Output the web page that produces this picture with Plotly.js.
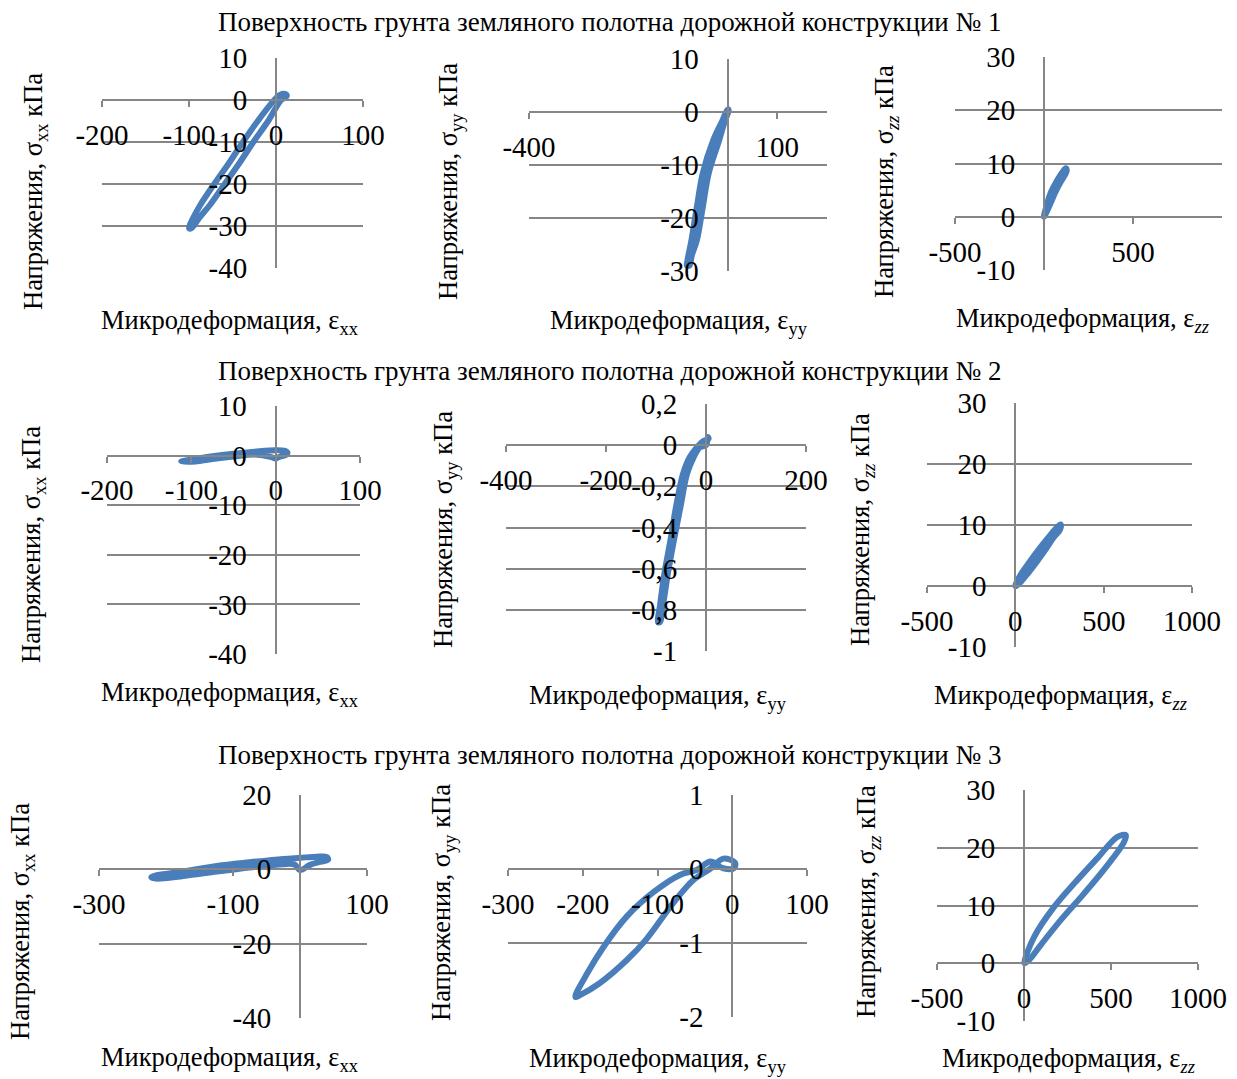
<!DOCTYPE html>
<html>
<head>
<meta charset="utf-8">
<script src="https://cdn.plot.ly/plotly-3.0.1.min.js"></script>
<style>html,body{margin:0;padding:0;background:#fff}#chart{width:1237px;height:1079px}</style>
</head>
<body>
<div id="chart"></div>
<script>
// ---------- Data ----------
const rowTitles = [
  'Поверхность грунта земляного полотна дорожной конструкции № 1',
  'Поверхность грунта земляного полотна дорожной конструкции № 2',
  'Поверхность грунта земляного полотна дорожной конструкции № 3'
];

// Row 1
const r1_xx_strain = [8, 3, -2, -21, -38, -54, -71, -87, -95, -100, -97, -88, -76, -59, -42, -26, -9, 6, 12, 12, 8];
const r1_xx_stress = [1.5, 1, 0, -5, -10, -15, -20, -25, -28, -30.5, -30.5, -28, -25, -20, -15, -10, -5, 0, 0.8, 1.3, 1.5];
const r1_yy_strain = [0, -10, -29, -50, -62, -73, -81, -82, -77, -72, -62, -50, -38, -17, -5, 2, 0];
const r1_yy_stress = [0.5, -1.5, -5.3, -11.5, -17.9, -24.2, -28, -29, -29, -27, -24.2, -17.9, -11.5, -5.3, -1.5, 0.3, 0.5];
const r1_zz_strain = [0, 15, 40, 70, 100, 122, 128, 120, 95, 65, 38, 15, 0];
const r1_zz_stress = [0, 2.2, 4.7, 6.6, 8.2, 9.1, 8.7, 8, 6.6, 4.7, 2.6, 0.9, 0];

// Row 2
const r2_xx_strain = [-112, -95, -75, -50, -25, 0, 10, 14, 12, 5, 0, -5, -25, -50, -75, -95, -112];
const r2_xx_stress = [-1.2, -0.6, -0.1, 0.4, 0.8, 1.1, 1.0, 0.6, 0.1, -0.2, -0.6, -0.3, 0.2, -0.2, -0.7, -1.2, -1.2];
const r2_yy_strain = [5, -5, -18, -33, -46, -60, -71, -83, -92, -96, -92, -86, -76, -64, -51, -38, -25, -12, 0, 4, 5];
const r2_yy_stress = [0.03, 0.02, -0.01, -0.06, -0.14, -0.30, -0.46, -0.62, -0.78, -0.86, -0.86, -0.78, -0.62, -0.46, -0.30, -0.14, -0.06, -0.01, 0.0, 0.04, 0.03];
const r2_zz_strain = [0, 10, 33, 82, 133, 188, 235, 255, 258, 248, 218, 172, 122, 69, 25, 5, 0];
const r2_zz_stress = [0, 0.8, 2, 4, 6, 8, 9.6, 10.1, 9.7, 9, 8, 6, 4, 2, 0.5, 0, 0];

// Row 3
const r3_xx_strain = [0, 15, 30, 42, 40, 25, 0, -25, -75, -124, -174, -215, -222, -215, -174, -124, -75, -25, -8, 0];
const r3_xx_stress = [-0.2, 1.2, 2.0, 2.6, 3.3, 3.4, 3.1, 2.8, 1.9, 0.9, -0.6, -1.6, -2.1, -2.5, -1.8, -0.6, 0.5, 1.4, 1.3, -0.2];
const r3_yy_strain = [2, -12, -29, -47, -70, -105, -141, -172, -194, -210, -203, -177, -141, -115, -79, -52, -30, -12, 4, 2];
const r3_yy_stress = [0.01, 0.01, 0.1, -0.01, -0.08, -0.31, -0.64, -1.05, -1.41, -1.73, -1.70, -1.54, -1.23, -0.95, -0.46, -0.15, 0.0, 0.14, 0.08, 0.01];
const r3_zz_strain = [2, 59, 174, 288, 422, 537, 585, 575, 480, 346, 212, 97, 30, 2];
const r3_zz_stress = [0, 4.6, 9.8, 13.8, 18.2, 21.9, 22.2, 21, 17, 12.1, 7.5, 3.2, 0.6, 0];

// Tick values / labels
const xTicks_A = [-200, -100, 0, 100];          const xText_A = ['-200', '-100', '0', '100'];
const xTicks_B = [-400, 100];                   const xText_B = ['-400', '100'];
const xTicks_C = [-500, 500];                   const xText_C = ['-500', '500'];
const xTicks_D = [-400, -200, 0, 200];          const xText_D = ['-400', '-200', '0', '200'];
const xTicks_E = [-500, 0, 500, 1000];          const xText_E = ['-500', '0', '500', '1000'];
const xTicks_F = [-300, -100, 100];             const xText_F = ['-300', '-100', '100'];
const xTicks_G = [-300, -200, -100, 0, 100];    const xText_G = ['-300', '-200', '-100', '0', '100'];
const yTicks_A = [-40, -30, -20, -10, 0, 10];   const yText_A = ['-40', '-30', '-20', '-10', '0', '10'];
const yTicks_B = [-30, -20, -10, 0, 10];        const yText_B = ['-30', '-20', '-10', '0', '10'];
const yTicks_C = [-10, 0, 10, 20, 30];          const yText_C = ['-10', '0', '10', '20', '30'];
const yTicks_D = [-1, -0.8, -0.6, -0.4, -0.2, 0, 0.2]; const yText_D = ['-1', '-0,8', '-0,6', '-0,4', '-0,2', '0', '0,2'];
const yTicks_E = [-40, -20, 0, 20];             const yText_E = ['-40', '-20', '0', '20'];
const yTicks_F = [-2, -1, 0, 1];                const yText_F = ['-2', '-1', '0', '1'];

const yTitles = ['Напряжения, σ<sub>xx</sub> кПа', 'Напряжения, σ<sub>yy</sub> кПа', 'Напряжения, σ<sub><i>zz</i></sub> кПа'];
const xTitles = ['Микродеформация, ε<sub>xx</sub>', 'Микродеформация, ε<sub>yy</sub>', 'Микродеформация, ε<sub><i>zz</i></sub>'];

// ---------- Layout of panels (pixel boxes) ----------
const W = 1237, H = 1079;
const panels = [
  {sx: r1_xx_strain, sy: r1_xx_stress, box: [102, 363, 58, 268],  xr: [-200, 100], yr: [-40, 10],  xt: [xTicks_A, xText_A], yt: [yTicks_A, yText_A], yt_i: 0, yTitle: [35, 192],  xTitle: [230, 322]},
  {sx: r1_yy_strain, sy: r1_yy_stress, box: [529, 827, 59, 271],  xr: [-400, 200], yr: [-30, 10],  xt: [xTicks_B, xText_B], yt: [yTicks_B, yText_B], yt_i: 1, yTitle: [450, 182], xTitle: [679, 322]},
  {sx: r1_zz_strain, sy: r1_zz_stress, box: [955, 1222, 57, 270], xr: [-500, 1000], yr: [-10, 30], xt: [xTicks_C, xText_C], yt: [yTicks_C, yText_C], yt_i: 2, yTitle: [886, 182], xTitle: [1082, 320]},
  {sx: r2_xx_strain, sy: r2_xx_stress, box: [107, 360, 406, 654], xr: [-200, 100], yr: [-40, 10],  xt: [xTicks_A, xText_A], yt: [yTicks_A, yText_A], yt_i: 0, yTitle: [33, 545],  xTitle: [230, 694]},
  {sx: r2_yy_strain, sy: r2_yy_stress, box: [506, 806, 404, 651], xr: [-400, 200], yr: [-1, 0.2],  xt: [xTicks_D, xText_D], yt: [yTicks_D, yText_D], yt_i: 1, yTitle: [445, 530], xTitle: [658, 697]},
  {sx: r2_zz_strain, sy: r2_zz_stress, box: [927, 1192, 403, 647], xr: [-500, 1000], yr: [-10, 30], xt: [xTicks_E, xText_E], yt: [yTicks_C, yText_C], yt_i: 2, yTitle: [862, 530], xTitle: [1060, 697]},
  {sx: r3_xx_strain, sy: r3_xx_stress, box: [99, 367, 795, 1018], xr: [-300, 100], yr: [-40, 20],  xt: [xTicks_F, xText_F], yt: [yTicks_E, yText_E], yt_i: 0, yTitle: [22, 922],  xTitle: [230, 1059]},
  {sx: r3_yy_strain, sy: r3_yy_stress, box: [508, 807, 795, 1017], xr: [-300, 100], yr: [-2, 1],    xt: [xTicks_G, xText_G], yt: [yTicks_F, yText_F], yt_i: 1, yTitle: [443, 903], xTitle: [658, 1060]},
  {sx: r3_zz_strain, sy: r3_zz_stress, box: [937, 1198, 790, 1021], xr: [-500, 1000], yr: [-10, 30], xt: [xTicks_E, xText_E], yt: [yTicks_C, yText_C], yt_i: 2, yTitle: [868, 902], xTitle: [1068, 1060]}
];

const FONT = 'Liberation Serif, Times New Roman, serif';
const GRID = '#868686';
const LINE = '#4A7EBB';

const data = [];
const layout = {
  width: W, height: H,
  margin: {l: 0, r: 0, t: 0, b: 0},
  paper_bgcolor: '#ffffff', plot_bgcolor: 'rgba(0,0,0,0)',
  showlegend: false,
  font: {family: FONT, color: '#000000', size: 29},
  annotations: [],
  separators: ',.'
};

panels.forEach((p, i) => {
  const n = i === 0 ? '' : String(i + 1);
  const [x0, x1, y0, y1] = p.box;
  const xd = [x0 / W, x1 / W];
  const yd = [1 - y1 / H, 1 - y0 / H];
  const xZeroFrac = (0 - p.xr[0]) / (p.xr[1] - p.xr[0]);
  const yZeroFrac = (0 - p.yr[0]) / (p.yr[1] - p.yr[0]);
  data.push({
    x: p.sx, y: p.sy, type: 'scatter', mode: 'lines',
    xaxis: 'x' + n, yaxis: 'y' + n,
    line: {color: LINE, width: 6, shape: 'spline', smoothing: 1},
    hoverinfo: 'skip'
  });
  layout['xaxis' + n] = {
    domain: xd, range: p.xr, anchor: 'free', position: yd[0] + yZeroFrac * (yd[1] - yd[0]),
    tickmode: 'array', tickvals: p.xt[0], ticktext: p.xt[1], tickangle: 0,
    showgrid: false, zeroline: false, showline: true, linecolor: GRID, linewidth: 2,
    ticks: 'outside', ticklen: 6, tickwidth: 2, tickcolor: GRID,
    tickfont: {family: FONT, size: 29, color: '#000'}, ticklabelstandoff: 3,
    fixedrange: true
  };
  layout['yaxis' + n] = {
    domain: yd, range: p.yr, anchor: 'free', position: xd[0] + xZeroFrac * (xd[1] - xd[0]),
    tickmode: 'array', tickvals: p.yt[0], ticktext: p.yt[1],
    showgrid: true, gridcolor: GRID, gridwidth: 2, zeroline: false,
    showline: true, linecolor: GRID, linewidth: 2, ticks: '',
    tickfont: {family: FONT, size: 29, color: '#000'}, ticklabelstandoff: 22,
    fixedrange: true
  };
  layout.annotations.push({
    text: yTitles[p.yt_i], xref: 'paper', yref: 'paper',
    x: p.yTitle[0] / W, y: 1 - p.yTitle[1] / H, xanchor: 'center', yanchor: 'middle',
    textangle: -90, showarrow: false, font: {family: FONT, size: 26.5, color: '#000'}
  });
  layout.annotations.push({
    text: xTitles[p.yt_i], xref: 'paper', yref: 'paper',
    x: p.xTitle[0] / W, y: 1 - p.xTitle[1] / H, xanchor: 'center', yanchor: 'middle',
    showarrow: false, font: {family: FONT, size: 26.5, color: '#000'}
  });
});

const rowTitleY = [22, 371, 755];
rowTitles.forEach((t, k) => {
  layout.annotations.push({
    text: t, xref: 'paper', yref: 'paper', x: 610 / W, y: 1 - rowTitleY[k] / H,
    xanchor: 'center', yanchor: 'middle', showarrow: false,
    font: {family: FONT, size: 27, color: '#000'}
  });
});

Plotly.newPlot('chart', data, layout, {staticPlot: true, displayModeBar: false});
</script>
</body>
</html>
